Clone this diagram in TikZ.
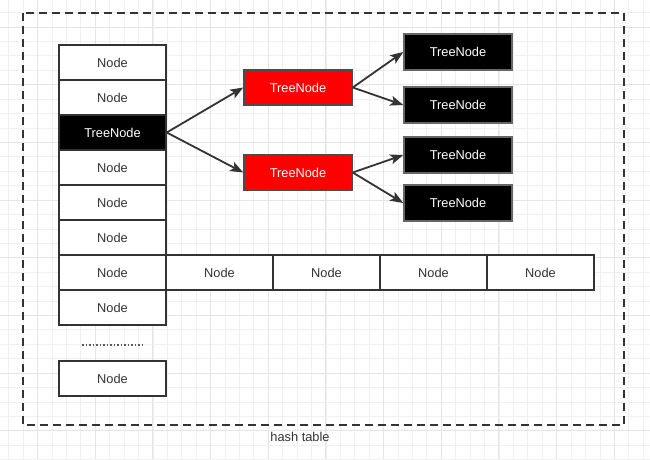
\documentclass[tikz,border=0pt]{standalone}
\usepackage{fontspec}
\setmainfont{Liberation Sans}
\usepackage{tikz}
\usetikzlibrary{arrows.meta,positioning}

\definecolor{inkgray}{HTML}{333333}
\definecolor{boxred}{HTML}{FF0000}

\tikzset{
  gridminor/.style={draw=black!6, line width=0.6pt},
  gridmajor/.style={draw=black!10, line width=0.8pt},
  hashbox/.style={draw=inkgray, line width=1.8pt, dash pattern=on 8pt off 5pt},
  cell/.style={draw=inkgray, fill=white, line width=1.5pt, minimum width=107pt, minimum height=35pt,
    inner sep=0pt, text=inkgray, font=\fontsize{12.8}{15}\selectfont},
  blackcell/.style={cell, fill=black, text=white},
  redcell/.style={cell, fill=boxred, draw=black!70, text=white, minimum width=108pt},
  leafcell/.style={cell, fill=black, draw=black!60, text=white, minimum width=108pt, minimum height=36pt},
  link/.style={draw=inkgray, line width=1.8pt, -{Stealth[length=13pt,width=10pt,inset=3pt]}}
}

\begin{document}
\begin{tikzpicture}[x=1pt,y=-1pt]
  \useasboundingbox (0,0) rectangle (650,459);
  \fill[white] (0,0) rectangle (650,459);

  % background grid
  \foreach \k in {0,...,44}
    \draw[gridminor] ({8.6+14.42*\k},0) -- ({8.6+14.42*\k},459);
  \foreach \k in {-1,...,31}
    \draw[gridminor] (0,{12.5+14.42*\k}) -- (650,{12.5+14.42*\k});
  \foreach \k in {0,...,10}
    \draw[gridmajor] ({37.4+57.68*\k},0) -- ({37.4+57.68*\k},459);
  \foreach \k in {0,...,7}
    \draw[gridmajor] (0,{26.9+57.68*\k}) -- (650,{26.9+57.68*\k});

  % hash table frame
  \draw[hashbox] (23,13) rectangle (624,425);
  \node[text=inkgray, font=\fontsize{12.8}{15}\selectfont] (caption) at (300,437) {hash table};

  % bucket array
  \foreach \i in {0,1,3,4,5,6,7}
    \node[cell] (bucket\i) at (112.5,{62.5+35*\i}) {Node};
  \node[blackcell] (bucket2) at (112.5,132.5) {TreeNode};
  \node[cell] (bucketn) at (112.5,378.5) {Node};
  \draw[inkgray!80, line width=1.5pt, dash pattern=on 1.5pt off 2pt] (82,345) -- (143,345);

  % linked list
  \foreach \j in {1,...,4}
    \node[cell] (list\j) at ({112.5+107*\j},272.5) {Node};

  % red-black tree
  \node[redcell] (red1) at (298,87.5) {TreeNode};
  \node[redcell] (red2) at (298,172.5) {TreeNode};
  \node[leafcell] (leaf1) at (458,52) {TreeNode};
  \node[leafcell] (leaf2) at (458,105) {TreeNode};
  \node[leafcell] (leaf3) at (458,155) {TreeNode};
  \node[leafcell] (leaf4) at (458,203) {TreeNode};

  \draw[link] (bucket2.east) -- (red1.west);
  \draw[link] (bucket2.east) -- (red2.west);
  \draw[link] (red1.east) -- (leaf1.west);
  \draw[link] (red1.east) -- (leaf2.west);
  \draw[link] (red2.east) -- (leaf3.west);
  \draw[link] (red2.east) -- (leaf4.west);
\end{tikzpicture}
\end{document}
